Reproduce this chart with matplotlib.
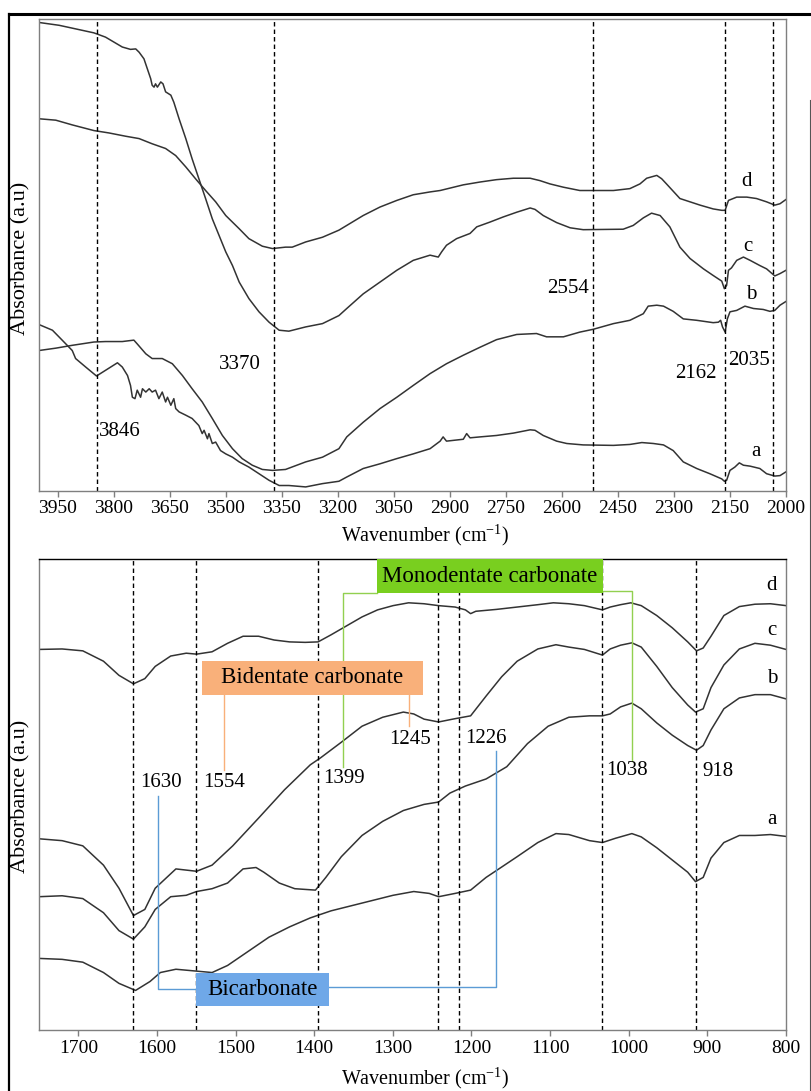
import matplotlib
matplotlib.use("Agg")
import matplotlib.pyplot as plt
from matplotlib.patches import Rectangle
from matplotlib.lines import Line2D

plt.rcParams['font.family'] = ['Liberation Serif', 'DejaVu Serif']
plt.rcParams['mathtext.fontset'] = 'custom'
plt.rcParams['mathtext.rm'] = 'Liberation Serif'
plt.rcParams['mathtext.it'] = 'Liberation Serif:italic'

# ---------------- top panel data (4000-2000 cm-1) ----------------
top_a_w = [4000, 3964, 3938, 3911, 3902, 3875, 3846, 3822, 3790, 3777, 3763, 3755, 3750, 3743, 3737,
           3728, 3723, 3714, 3705, 3697, 3688, 3679, 3670, 3661, 3656, 3647, 3639, 3634, 3625, 3607,
           3590, 3572, 3563, 3558, 3549, 3545, 3536, 3527, 3514, 3500, 3482, 3464, 3438, 3411, 3384,
           3357, 3331, 3286, 3241, 3197, 3176, 3132, 3087, 3042, 2998, 2953, 2926, 2918, 2909, 2864,
           2855, 2846, 2819, 2775, 2730, 2685, 2672, 2650, 2614, 2587, 2543, 2462, 2418, 2386, 2355,
           2328, 2302, 2275, 2239, 2204, 2172, 2165, 2159, 2150, 2137, 2125, 2114, 2096, 2070, 2052,
           2030, 2016, 2000]
top_a_v = [35.2, 34.0, 31.9, 29.7, 28.0, 26.2, 24.3, 25.5, 27.1, 26.2, 24.4, 22.3, 19.8, 19.5, 21.3,
           19.8, 21.6, 20.9, 21.6, 20.9, 21.3, 19.5, 20.9, 18.8, 19.8, 18.1, 19.5, 17.4, 16.7, 16.0,
           15.3, 13.8, 12.1, 12.8, 11.0, 12.1, 10.0, 10.3, 8.5, 7.8, 7.1, 6.1, 5.0, 3.6, 2.2,
           1.1, 1.1, 0.8, 1.5, 2.0, 2.9, 4.7, 5.7, 6.8, 7.8, 8.9, 10.5, 11.4, 10.5, 10.9,
           12.1, 11.2, 11.4, 11.7, 12.2, 12.9, 12.8, 11.7, 10.5, 10.0, 9.7, 9.6, 9.8, 10.2, 10.0,
           9.7, 8.5, 6.1, 4.7, 3.6, 2.5, 2.0, 2.2, 4.3, 5.0, 5.9, 5.4, 5.2, 4.7, 3.6,
           3.1, 3.2, 4.0]

top_b_w = [4000, 3955, 3911, 3853, 3822, 3777, 3746, 3737, 3714, 3697, 3670, 3643, 3616, 3590, 3563,
           3536, 3509, 3482, 3456, 3429, 3402, 3375, 3340, 3286, 3241, 3197, 3176, 3132, 3087, 3042,
           2998, 2953, 2909, 2864, 2819, 2775, 2721, 2668, 2641, 2596, 2552, 2516, 2462, 2418, 2382,
           2369, 2346, 2328, 2302, 2275, 2239, 2195, 2181, 2175, 2170, 2163, 2157, 2150, 2132, 2110,
           2087, 2061, 2043, 2030, 2016, 2000]
top_b_v = [29.7, 30.2, 30.8, 31.5, 31.6, 31.6, 31.9, 31.1, 29.0, 28.0, 28.0, 26.9, 24.4, 21.6, 18.8,
           15.3, 11.7, 8.9, 6.8, 5.4, 4.5, 4.3, 4.5, 6.1, 7.1, 8.9, 11.4, 14.5, 17.4, 19.8,
           22.3, 24.8, 26.9, 28.7, 30.4, 32.0, 33.1, 33.3, 32.6, 32.6, 33.6, 34.2, 35.4, 36.1, 37.5,
           39.1, 39.3, 39.1, 38.0, 36.4, 36.1, 35.6, 35.7, 36.1, 34.7, 33.6, 36.4, 37.9, 38.2, 39.1,
           38.6, 38.4, 38.0, 38.2, 39.3, 40.1]

top_c_w = [4000, 3946, 3911, 3853, 3822, 3777, 3755, 3741, 3732, 3719, 3710, 3701, 3697, 3692, 3688,
           3683, 3674, 3668, 3661, 3647, 3639, 3625, 3607, 3590, 3572, 3554, 3536, 3518, 3500, 3482,
           3464, 3438, 3411, 3384, 3357, 3331, 3286, 3241, 3197, 3176, 3132, 3087, 3042, 2998, 2953,
           2931, 2922, 2909, 2882, 2846, 2828, 2793, 2757, 2721, 2685, 2672, 2650, 2614, 2578, 2543,
           2436, 2409, 2382, 2360, 2337, 2311, 2284, 2257, 2221, 2195, 2172, 2165, 2159, 2154, 2146,
           2132, 2114, 2096, 2070, 2052, 2030, 2016, 2000]
top_c_v = [99.2, 98.6, 98.0, 97.0, 96.1, 94.0, 93.5, 93.6, 92.9, 91.5, 89.4, 87.3, 85.9, 85.5, 86.2,
           85.5, 86.6, 86.2, 84.5, 83.8, 82.3, 78.8, 74.6, 70.3, 66.1, 61.9, 57.6, 54.1, 50.6, 47.7,
           44.2, 40.7, 37.9, 35.7, 34.0, 33.8, 34.7, 35.4, 37.1, 38.6, 41.7, 44.2, 46.7, 48.8, 49.9,
           49.5, 50.6, 52.0, 53.4, 54.5, 55.9, 56.9, 58.0, 59.0, 59.9, 59.6, 58.3, 56.8, 55.7, 55.3,
           55.4, 56.2, 57.8, 58.8, 58.3, 55.9, 51.6, 49.2, 47.0, 45.6, 44.4, 42.8, 43.5, 46.7, 47.2,
           48.8, 49.5, 48.8, 47.7, 47.0, 45.5, 46.0, 46.7]

top_d_w = [4000, 3955, 3911, 3853, 3813, 3768, 3732, 3697, 3661, 3634, 3607, 3581, 3554, 3527, 3500,
           3464, 3438, 3402, 3375, 3340, 3322, 3286, 3241, 3197, 3176, 3132, 3087, 3042, 2998, 2953,
           2926, 2864, 2819, 2775, 2730, 2685, 2659, 2632, 2596, 2552, 2462, 2418, 2391, 2373, 2346,
           2333, 2320, 2284, 2257, 2230, 2195, 2172, 2163, 2154, 2132, 2105, 2079, 2052, 2030, 2016,
           2000]
top_d_v = [78.8, 78.5, 77.5, 76.3, 75.8, 75.1, 74.6, 73.5, 72.5, 71.0, 68.6, 66.1, 63.6, 61.2, 58.3,
           55.5, 53.4, 51.8, 51.3, 51.6, 51.6, 52.7, 53.7, 55.2, 56.2, 58.3, 60.1, 61.5, 62.7, 63.3,
           63.6, 64.8, 65.4, 65.9, 66.2, 66.2, 65.7, 65.0, 64.3, 63.6, 63.6, 64.0, 65.0, 66.2, 66.8,
           66.1, 65.0, 61.9, 61.2, 60.5, 59.7, 59.4, 59.4, 61.5, 62.2, 62.2, 61.9, 61.2, 60.5, 60.8,
           61.7]

top_ticks = [3950, 3800, 3650, 3500, 3350, 3200, 3050, 2900, 2750, 2600, 2450, 2300, 2150, 2000]
top_marks = [3846, 3370, 2517, 2162, 2035]
top_mark_labels = ['3846', '3370', '2554', '2162', '2035']

# ---------------- bottom panel data (1750-800 cm-1) ----------------
bot_a_w = [1750, 1720.6, 1694.3, 1668, 1648.3, 1627.2, 1608.8, 1595.7, 1575.9, 1556.2, 1529.9, 1510.2,
           1483.9, 1457.6, 1431.3, 1405, 1378.6, 1352.3, 1326, 1299.7, 1273.4, 1253.7, 1241.8, 1220.8,
           1201.1, 1181.4, 1161.6, 1141.9, 1115.6, 1092.6, 1076.2, 1049.9, 1033.4, 1017, 996, 984.1,
           964.4, 944.7, 925, 915.1, 905.3, 895.4, 879, 859.3, 839.5, 819.8, 800]
bot_a_v = [15.2, 15.0, 14.4, 12.2, 9.9, 8.4, 10.3, 12.2, 12.9, 12.6, 12.2, 13.7,
           16.7, 19.7, 21.9, 23.8, 25.3, 26.4, 27.5, 28.6, 29.4, 29.0, 28.3, 29.0,
           29.7, 32.4, 34.6, 36.8, 39.8, 41.7, 41.5, 40.2, 39.8, 40.7, 41.7, 41.0,
           38.7, 36.1, 33.5, 31.5, 32.4, 36.5, 39.8, 41.3, 41.3, 41.5, 41.1]

bot_b_w = [1750, 1720.6, 1694.3, 1668, 1648.3, 1629.9, 1615.4, 1602.2, 1582.5, 1562.8, 1549.6, 1529.9,
           1510.2, 1490.5, 1474, 1464.1, 1444.4, 1424.7, 1398.4, 1385.2, 1365.5, 1339.2, 1312.9, 1286.6,
           1260.3, 1241.8, 1227.4, 1207.7, 1181.4, 1155.1, 1128.8, 1102.5, 1076.2, 1049.9, 1033.4, 1023.6,
           1010.4, 996, 984.1, 964.4, 944.7, 925, 913.8, 905.3, 895.4, 879, 859.3, 839.5, 819.8, 800]
bot_b_v = [28.3, 28.5, 27.9, 24.9, 21.1, 19.3, 21.9, 25.6, 28.3, 28.6, 29.4, 30.0,
           31.2, 34.2, 34.5, 33.5, 31.2, 30.0, 29.7, 32.4, 36.8, 41.3, 44.3, 46.6,
           47.9, 48.4, 50.3, 51.8, 53.3, 55.9, 60.8, 64.5, 66.4, 66.7, 66.7, 67.1,
           68.6, 69.4, 68.2, 65.2, 62.6, 60.4, 59.4, 60.4, 63.7, 68.2, 70.5, 71.2, 71.2, 70.3]

bot_c_w = [1750, 1720.6, 1694.3, 1668, 1648.3, 1629.9, 1615.4, 1602.2, 1575.9, 1549.6, 1529.9, 1503.6,
           1470.7, 1437.8, 1405, 1391.8, 1365.5, 1339.2, 1312.9, 1286.6, 1273.4, 1260.3, 1241.8, 1220.8,
           1201.1, 1181.4, 1161.6, 1141.9, 1115.6, 1092.6, 1076.2, 1056.4, 1033.4, 1023.6, 1010.4, 996,
           984.1, 964.4, 944.7, 925, 915.1, 905.3, 895.4, 879, 859.3, 839.5, 819.8, 800]
bot_c_v = [40.6, 40.2, 39.1, 35.0, 30.1, 24.3, 25.6, 30.1, 34.2, 33.7, 35.0, 39.1,
           45.0, 51.0, 56.3, 57.8, 61.1, 64.5, 66.4, 67.5, 67.1, 66.0, 65.4, 66.1,
           66.7, 70.9, 75.0, 78.3, 80.9, 81.8, 81.3, 80.8, 79.6, 80.9, 81.7, 82.2,
           81.3, 77.2, 72.7, 69.0, 67.5, 68.2, 72.7, 77.5, 80.9, 82.1, 81.7, 80.8]

bot_d_w = [1750, 1720.6, 1694.3, 1668, 1648.3, 1629.9, 1615.4, 1602.2, 1582.5, 1562.8, 1549.6, 1529.9,
           1510.2, 1490.5, 1470.7, 1451, 1431.3, 1411.5, 1395.1, 1378.6, 1358.9, 1339.2, 1319.4, 1299.7,
           1280, 1260.3, 1241.8, 1220.8, 1207.7, 1201.1, 1194.5, 1168.2, 1141.9, 1115.6, 1095.9, 1076.2,
           1056.4, 1033.4, 1023.6, 1010.4, 997.3, 984.1, 964.4, 944.7, 925, 913.8, 905.3, 895.4, 879,
           859.3, 839.5, 819.8, 800]
bot_d_v = [80.8, 80.9, 80.5, 78.3, 75.3, 73.5, 74.6, 77.2, 79.4, 80.0, 79.8, 80.3,
           82.1, 83.6, 83.6, 82.8, 82.4, 82.3, 82.4, 83.9, 85.8, 87.7, 89.2, 90.1,
           90.7, 90.5, 90.1, 89.8, 89.2, 88.4, 88.9, 89.3, 89.8, 90.3, 90.7, 90.5,
           90.1, 89.2, 89.8, 90.3, 90.7, 90.1, 88.0, 85.4, 82.4, 80.5, 81.1, 83.6, 88.0,
           89.9, 90.4, 90.5, 90.1]

bot_ticks = [1700, 1600, 1500, 1400, 1300, 1200, 1100, 1000, 900, 800]
bot_marks = [1630, 1550, 1395, 1242, 1216, 1034, 914]
bot_mark_labels = ['1630', '1554', '1399', '1245', '1226', '1038', '918']
group_labels = ['Monodentate carbonate', 'Bidentate carbonate', 'Bicarbonate']
series_names = ['a', 'b', 'c', 'd']

# ---------------- figure ----------------
W, H = 812, 1091
fig = plt.figure(figsize=(W / 100, H / 100), dpi=100)

def px_axes(l, t, r, b):
    return fig.add_axes([l / W, 1 - b / H, (r - l) / W, (b - t) / H])

ax1 = px_axes(39, 18.7, 786, 490.7)
ax2 = px_axes(39, 559, 786, 1030)

curve_kw = dict(color='#333333', lw=1.1)
dash_kw = dict(color='black', lw=1.0, dashes=(3.2, 2.2))
FS = 15
FS_TICK = 14

def style(ax, xlim, ticks):
    ax.set_xlim(*xlim)
    ax.set_ylim(0, 100)
    ax.set_yticks([])
    ax.set_xticks(ticks)
    ax.set_xticklabels([str(t) for t in ticks])
    ax.tick_params(axis='x', direction='out', length=4, width=1, color='#7f7f7f',
                   labelsize=FS_TICK, pad=3)
    for s in ax.spines.values():
        s.set_color('#7f7f7f')
        s.set_linewidth(1.0)

# top
for w, v in [(top_a_w, top_a_v), (top_b_w, top_b_v), (top_c_w, top_c_v), (top_d_w, top_d_v)]:
    ax1.plot(w, v, **curve_kw)
for m in top_marks:
    ax1.axvline(m, **dash_kw)
style(ax1, (4000, 2000), top_ticks)

top_label_pos = [(3783, 12.5), (3462, 26.7), (2583, 42.9), (2241, 24.9), (2098, 27.5)]
for (x, y), t in zip(top_label_pos, top_mark_labels):
    ax1.text(x, y, t, fontsize=FS, ha='center', va='center')
top_name_pos = [(2080, 8.3), (2094, 41.5), (2102, 51.7), (2105, 65.5)]
for (x, y), t in zip(top_name_pos, series_names):
    ax1.text(x, y, t, fontsize=FS, ha='center', va='center')

# bottom
for w, v in [(bot_a_w, bot_a_v), (bot_b_w, bot_b_v), (bot_c_w, bot_c_v), (bot_d_w, bot_d_v)]:
    ax2.plot(w, v, **curve_kw)
for m in bot_marks:
    ax2.axvline(m, **dash_kw)
style(ax2, (1750, 800), bot_ticks)
ax2.spines['top'].set_color('black')

bot_label_pos = [(1595.5, 52.6), (1515, 52.6), (1361.6, 53.5), (1278, 61.6),
                 (1181.8, 61.8), (1002.7, 55.0), (886.5, 54.8)]
for (x, y), t in zip(bot_label_pos, bot_mark_labels):
    ax2.text(x, y, t, fontsize=FS, ha='center', va='center')
bot_name_pos = [(818, 44.7), (817, 74.7), (818, 84.8), (818, 94.3)]
for (x, y), t in zip(bot_name_pos, series_names):
    ax2.text(x, y, t, fontsize=FS, ha='center', va='center')

# group boxes and brackets
green_box, green_line = '#79cf1f', '#92d050'
orange_box, orange_line = '#f9b07a', '#f9b07a'
blue_box, blue_line = '#6fa8e8', '#5b9bd5'

boxes = [((1032.7, 92.7), (1320.1, 99.9), green_box),
         ((1261.6, 71.2), (1542.7, 78.3), orange_box),
         ((1381.4, 5.1), (1550.6, 12.1), blue_box)]
for ((x0, y0), (x1, y1), col), lab in zip(boxes, group_labels):
    ax2.add_patch(Rectangle((x0, y0), x1 - x0, y1 - y0, facecolor=col, edgecolor='none', zorder=3))
    ax2.text((x0 + x1) / 2, (y0 + y1) / 2, lab, fontsize=16.5, ha='center', va='center', zorder=4)

lw_b = 1.0
# green
ax2.plot([1320.1, 1363, 1363], [92.8, 92.8, 55.9], color=green_line, lw=lw_b, zorder=2)
ax2.plot([1032.7, 996, 996], [93.2, 93.2, 57.1], color=green_line, lw=lw_b, zorder=2)
# orange
ax2.plot([1515, 1515], [71.2, 55.2], color=orange_line, lw=lw_b, zorder=2)
ax2.plot([1280, 1280], [71.2, 64.5], color=orange_line, lw=lw_b, zorder=2)
# blue
ax2.plot([1598.7, 1598.7, 1550.6], [49.6, 8.7, 8.7], color=blue_line, lw=lw_b, zorder=2)
ax2.plot([1381.4, 1168.8, 1168.8], [9.1, 9.1, 59.3], color=blue_line, lw=lw_b, zorder=2)

# axis labels
xl = 'Wavenumber (cm$^{\\mathregular{-1}}$)'
fig.text(425 / W, 1 - 535 / H, xl, fontsize=14.5, ha='center', va='center')
fig.text(425 / W, 1 - 1078 / H, xl, fontsize=14.5, ha='center', va='center')
fig.text(21 / W, 1 - 258 / H, 'Absorbance (a.u)', fontsize=16, rotation=90, ha='center', va='center')
fig.text(21 / W, 1 - 796 / H, 'Absorbance (a.u)', fontsize=16, rotation=90, ha='center', va='center')

# outer frame
fig.add_artist(Line2D([9 / W, 9 / W], [0, 1 - 14 / H], color='black', lw=1.6, transform=fig.transFigure))
fig.add_artist(Line2D([9 / W, 1], [1 - 14 / H, 1 - 14 / H], color='black', lw=2.2, transform=fig.transFigure))
fig.add_artist(Line2D([810.5 / W, 810.5 / W], [0, 1 - 100 / H], color='#555555', lw=0.8, transform=fig.transFigure))

fig.savefig('out.png', dpi=100)
